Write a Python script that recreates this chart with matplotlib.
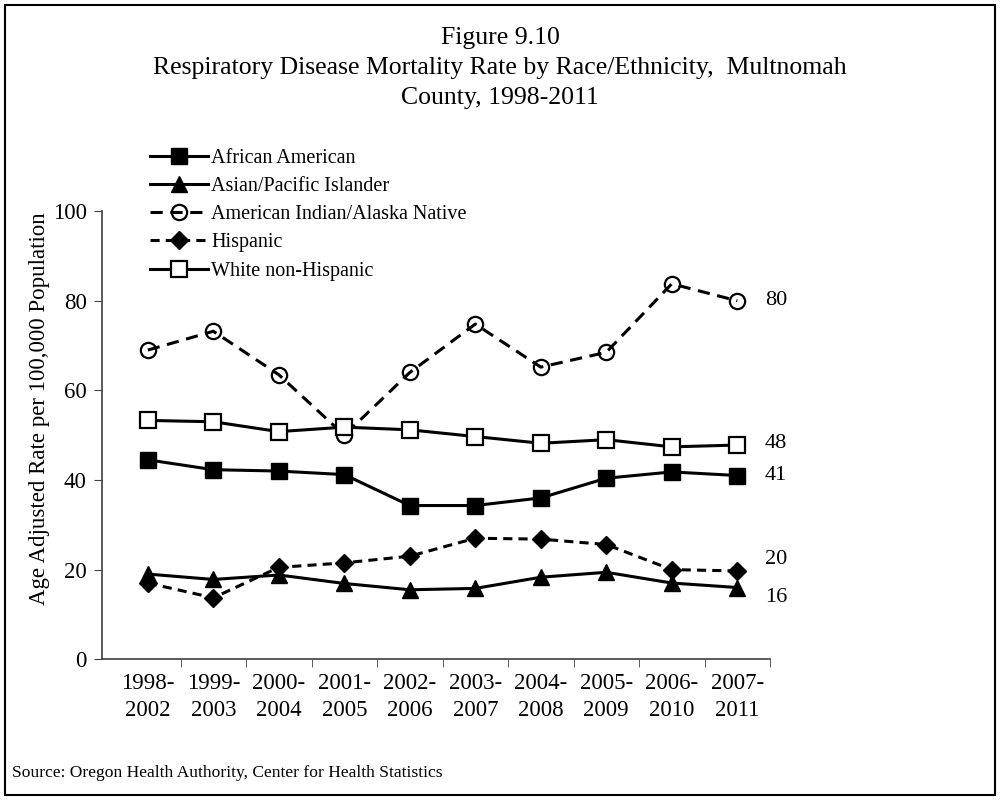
"""
Plot_Linechart.respiratory.py
=============================
Respiratory disease mortality rate by race/ethnicity, Multnomah County.
"""

import numpy as np
import matplotlib.pyplot as plt
from matplotlib.patches import Rectangle

# Data
Periods = ['1998-\n2002', '1999-\n2003', '2000-\n2004', '2001-\n2005', '2002-\n2006',
	'2003-\n2007', '2004-\n2008', '2005-\n2009', '2006-\n2010', '2007-\n2011']
African_American = [44.5, 42.3, 42.0, 41.2, 34.3, 34.3, 36.0, 40.4, 41.8, 41.0]
Asian_PI         = [19.0, 17.8, 18.8, 16.9, 15.5, 15.8, 18.3, 19.4, 17.0, 16.0]
AIAN             = [69.0, 73.2, 63.5, 50.0, 64.0, 74.8, 65.2, 68.5, 83.8, 80.0]
Hispanic         = [17.0, 13.7, 20.5, 21.5, 23.0, 27.0, 26.8, 25.6, 20.0, 19.7]
White_NH         = [53.3, 53.0, 50.8, 51.8, 51.2, 49.7, 48.2, 49.0, 47.4, 47.8]
End_Labels = {'AIAN': '80', 'White_NH': '48', 'African_American': '41', 'Hispanic': '20', 'Asian_PI': '16'}

def Plot_Linechart():

	plt.rcParams['font.family'] = ['Liberation Serif', 'DejaVu Serif']

	# Create figure
	fig = plt.figure(figsize=(10, 8), dpi=100)
	ax = fig.add_axes([0.102, 0.176, 0.668, 0.56])

	x = np.arange(len(Periods))
	lw = 2.2

	# Plot data
	ax.plot(x, African_American, color='black', linewidth=lw, marker='s', markersize=11,
		markerfacecolor='black', label='African American', zorder=3)
	ax.plot(x, Asian_PI, color='black', linewidth=lw, marker='^', markersize=11,
		markerfacecolor='black', label='Asian/Pacific Islander', zorder=3)
	ax.plot(x, AIAN, color='black', linewidth=lw, linestyle=(0, (4, 2.5)), marker='o', markersize=11,
		markerfacecolor='none', markeredgewidth=1.6, label='American Indian/Alaska Native', zorder=3)
	ax.plot(x, Hispanic, color='black', linewidth=lw, linestyle=(0, (3, 2)), marker='D', markersize=9,
		markerfacecolor='black', label='Hispanic', zorder=3)
	ax.plot(x, White_NH, color='black', linewidth=lw, marker='s', markersize=11,
		markerfacecolor='white', markeredgewidth=1.6, label='White non-Hispanic', zorder=4)

	# End labels
	Series = {'AIAN': AIAN, 'White_NH': White_NH, 'African_American': African_American,
		'Hispanic': Hispanic, 'Asian_PI': Asian_PI}
	Offsets = {'AIAN': 0, 'White_NH': 1, 'African_American': 0, 'Hispanic': 8, 'Asian_PI': -7}
	for key, text in End_Labels.items():
		ax.annotate(text, xy=(x[-1], Series[key][-1]), xytext=(20, Offsets[key]),
			textcoords='offset points', va='center', ha='left', fontsize=16)

	# Axis configuration
	ax.set_xlim(-0.7, len(Periods) - 0.5)
	ax.set_ylim(0, 100)
	ax.set_yticks(range(0, 101, 20))
	ax.set_xticks(x)
	ax.set_xticklabels(Periods, fontsize=16.5, linespacing=1.4)
	ax.set_xticks(np.arange(0.5, len(Periods)), minor=True)
	ax.tick_params(axis='x', which='major', length=0, pad=10)
	ax.tick_params(axis='x', which='minor', length=6, direction='out', color='#404040')
	ax.tick_params(axis='y', labelsize=16.5, length=6, direction='out', color='#404040', pad=5)
	ax.set_ylabel('Age Adjusted Rate per 100,000 Population', fontsize=16.5)
	ax.yaxis.set_label_coords(-0.078, 0.56)
	for side in ['top', 'right']:
		ax.spines[side].set_visible(False)
	for side in ['left', 'bottom']:
		ax.spines[side].set_color('#404040')
		ax.spines[side].set_linewidth(1.2)

	# Title, legend, source
	fig.text(0.5, 0.953, 'Figure 9.10', ha='center', va='center', fontsize=18.5)
	fig.text(0.5, 0.915, 'Respiratory Disease Mortality Rate by Race/Ethnicity,  Multnomah',
		ha='center', va='center', fontsize=18.5)
	fig.text(0.5, 0.878, 'County, 1998-2011', ha='center', va='center', fontsize=18.5)

	fig.legend(loc='upper left', bbox_to_anchor=(0.142, 0.824), frameon=False, fontsize=14.5,
		handlelength=2.9, handletextpad=0.15, labelspacing=0.45, borderaxespad=0)

	fig.text(0.012, 0.034, 'Source: Oregon Health Authority, Center for Health Statistics',
		ha='left', va='center', fontsize=12.6)

	fig.patches.append(Rectangle((0.005, 0.006), 0.99, 0.988, transform=fig.transFigure,
		fill=False, edgecolor='black', linewidth=1.5))

	plt.savefig('out.png', dpi=100)
	plt.close()

	return

if (__name__ == '__main__'):

	Plot_Linechart()
